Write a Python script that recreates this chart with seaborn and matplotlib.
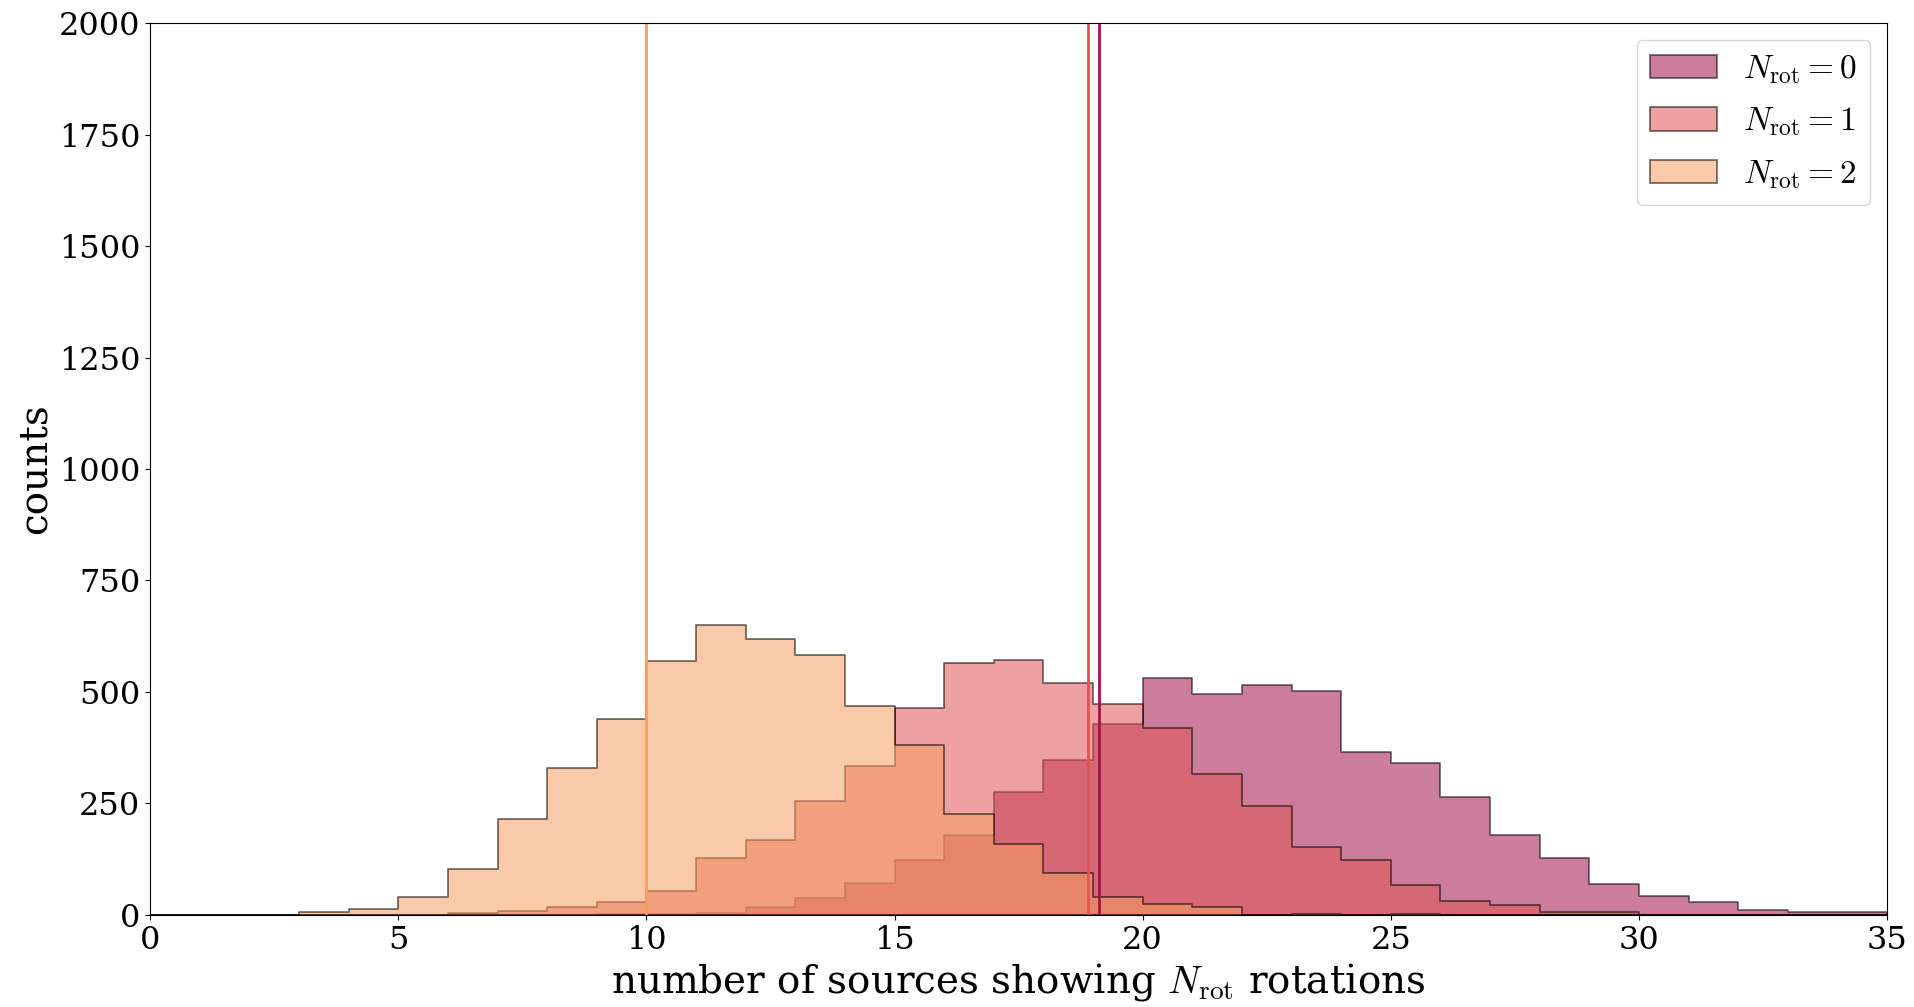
import numpy as np
import pandas as pd
import matplotlib
matplotlib.use("Agg")
import matplotlib.pyplot as plt
import seaborn as sns

# Integer bins from 0 to 35
bin_lo, bin_hi = 0, 35

# Counts per bin (bins 0..34) for each number of rotations
counts_nrot0 = [0, 0, 0, 0, 0, 0, 0, 0, 0, 3,
                3, 4, 17, 38, 71, 124, 179, 275, 347, 428,
                532, 495, 516, 503, 366, 340, 264, 179, 128, 69,
                43, 28, 10, 6, 6]
counts_nrot1 = [0, 0, 0, 0, 0, 0, 4, 9, 18, 28,
                54, 128, 168, 255, 335, 465, 564, 571, 521, 472,
                418, 315, 244, 153, 124, 67, 31, 21, 6, 6,
                0, 0, 0, 0, 0]
counts_nrot2 = [0, 0, 0, 6, 13, 39, 102, 215, 329, 440,
                569, 650, 619, 583, 468, 381, 226, 160, 94, 39,
                24, 17, 0, 2, 0, 2, 0, 0, 0, 0,
                0, 0, 0, 0, 0]

series_labels = [r"$N_{\rm rot}=0$", r"$N_{\rm rot}=1$", r"$N_{\rm rot}=2$"]
series_colors = ["#a4124b", "#e05555", "#f69e60"]
marker_lines = [19.13, 18.9, 10.0]

x_ticks = [0, 5, 10, 15, 20, 25, 30, 35]
y_ticks = [0, 250, 500, 750, 1000, 1250, 1500, 1750, 2000]

plt.rcParams["font.family"] = ["DejaVu Serif"]
plt.rcParams["mathtext.fontset"] = "cm"

fig, ax = plt.subplots(figsize=(19.15, 10.07), dpi=100)
fig.subplots_adjust(left=0.0784, right=0.9854, top=0.977, bottom=0.0915)

bin_centers = np.arange(bin_lo, bin_hi) + 0.5
alpha = 0.55
for counts, label, color in zip([counts_nrot0, counts_nrot1, counts_nrot2],
                                series_labels, series_colors):
    df = pd.DataFrame({"n": bin_centers, "w": counts})
    sns.histplot(data=df, x="n", weights="w", binwidth=1,
                 binrange=(bin_lo, bin_hi),
                 element="step", fill=True, color=color, alpha=alpha,
                 edgecolor=(0, 0, 0, alpha), linewidth=1.3,
                 label=label, ax=ax)

for pos, color in zip(marker_lines, series_colors):
    ax.axvline(pos, color=color, lw=2)

ax.set_xlim(0, 35)
ax.set_ylim(0, 2000)
ax.set_xticks(x_ticks)
ax.set_yticks(y_ticks)
ax.tick_params(labelsize=23)
ax.set_xlabel(r"number of sources showing $N_{\rm rot}$ rotations", fontsize=28)
ax.set_ylabel("counts", fontsize=28)
ax.legend(loc="upper right", fontsize=24, labelspacing=0.6)

fig.savefig("out.png", dpi=100)
